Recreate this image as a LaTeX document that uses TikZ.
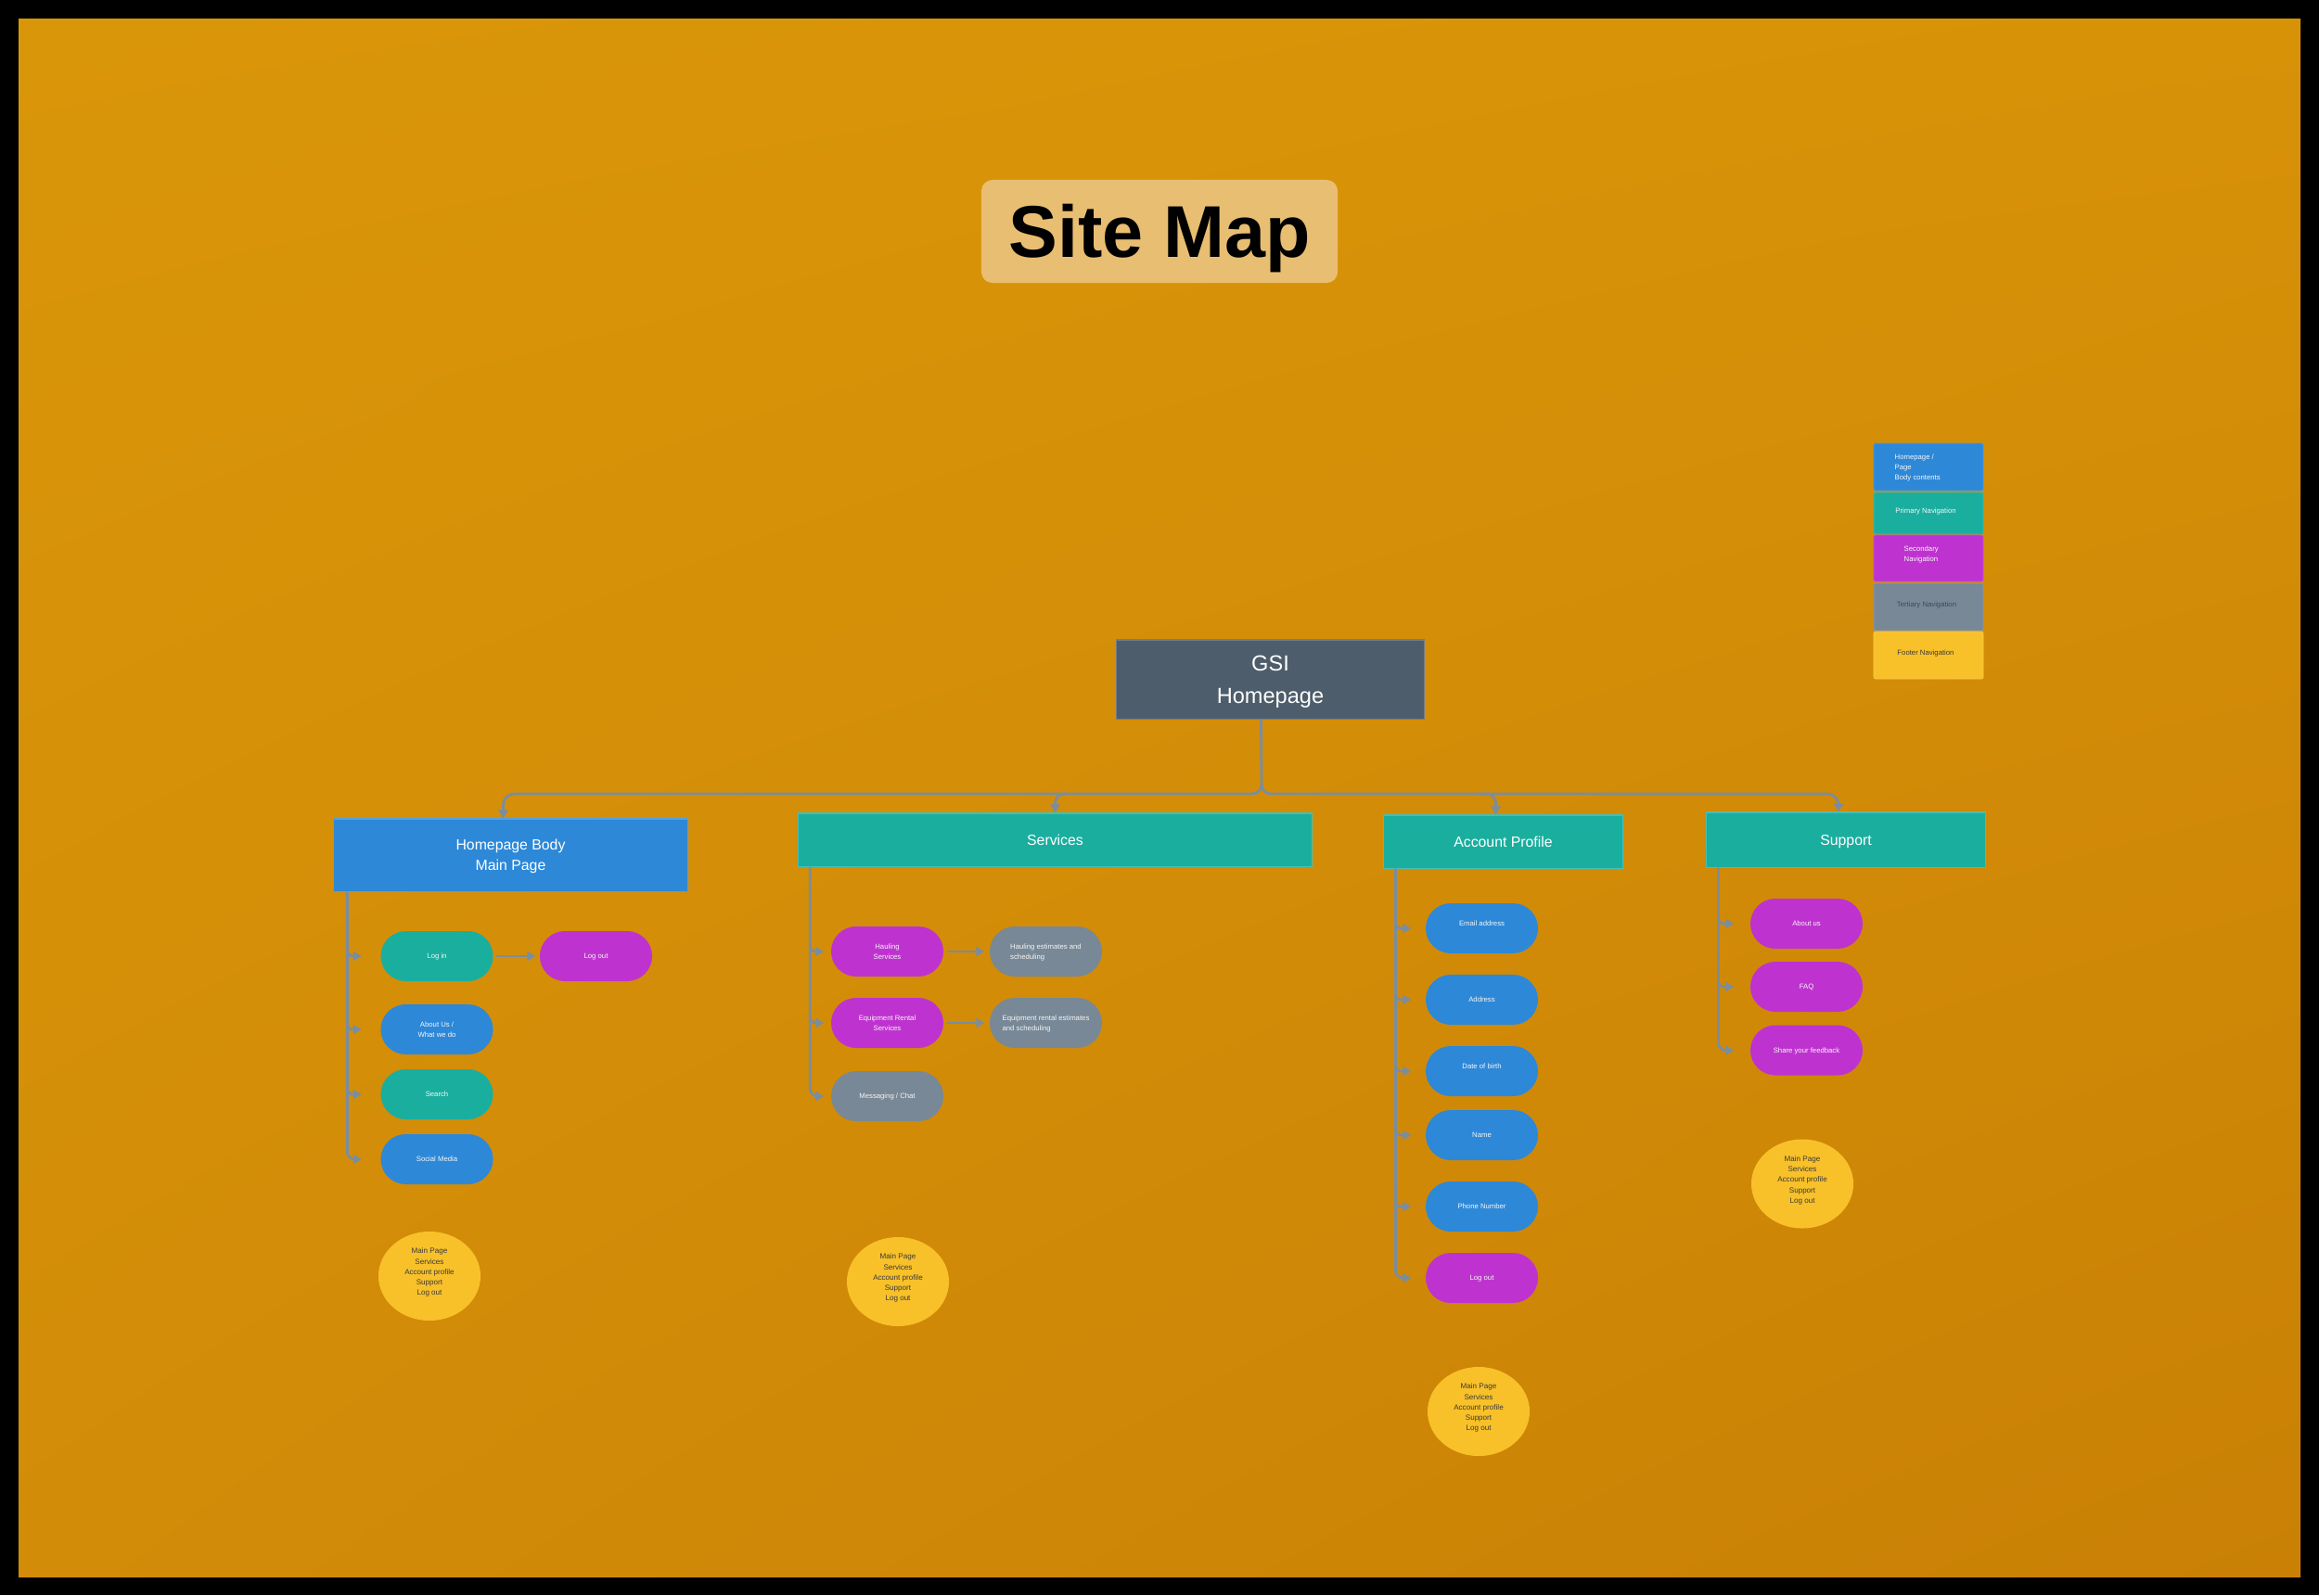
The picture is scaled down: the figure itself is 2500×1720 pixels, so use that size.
\documentclass[tikz,border=0pt]{standalone}
\usepackage{fontspec}
\setmainfont{Liberation Sans}
\usetikzlibrary{arrows.meta,shapes.geometric,calc,shadings}
\definecolor{bgA}{HTML}{DA9609}
\definecolor{bgB}{HTML}{D89208}
\definecolor{bgC}{HTML}{D28C08}
\definecolor{bgD}{HTML}{C98005}
\definecolor{blueC}{HTML}{2D88D8}
\definecolor{tealC}{HTML}{1AAE9F}
\definecolor{magC}{HTML}{BE33CF}
\definecolor{greyC}{HTML}{788896}
\definecolor{yelC}{HTML}{F8C12A}
\definecolor{slateC}{HTML}{4E5D6B}
\definecolor{titleC}{HTML}{E8BE72}
\definecolor{lineC}{HTML}{7A8DA0}
\definecolor{darkT}{HTML}{3A3A3A}
\definecolor{tertT}{HTML}{3E4A57}
\definecolor{txtW}{HTML}{F7F7F7}
\begin{document}
\begin{tikzpicture}[x=0.01cm,y=-0.01cm,
  hdr/.style={rectangle, inner sep=0pt, text=white, align=center, text depth=0pt,
    font=\fontsize{4.5}{6.3}\selectfont, fill=#1, draw=#1!80!white, line width=0.3pt},
  pill/.style={rectangle, rounded corners=0.27cm, minimum width=1.21cm,
    minimum height=0.54cm, inner sep=0pt, fill=#1, text=txtW, align=center, text depth=0pt,
    font=\fontsize{2.2}{3.2}\selectfont},
  foot/.style={ellipse, fill=yelC, inner sep=0pt, text=darkT, align=center, text depth=2.6pt,
    font=\fontsize{2.3}{3.2}\selectfont, minimum width=1.10cm, minimum height=0.96cm},
  legbox/.style={rectangle, rounded corners=0.02cm, inner sep=0pt, fill=#1,
    minimum width=1.18cm, draw=#1!85!white, line width=0.2pt},
  legtxt/.style={inner sep=0pt, align=left, text depth=0pt, font=\fontsize{2.2}{3.1}\selectfont},
  conn/.style={draw=lineC, line width=0.8pt},
  arr/.style={conn, -{Triangle[length=0.09cm, width=0.1cm]}}
]
\useasboundingbox (0,0) rectangle (2500,1720);
\fill[black] (0,0) rectangle (2500,1720);
\shade[upper left=bgA, upper right=bgB, lower left=bgC, lower right=bgD] (20,20) rectangle (2480,1700);

% title
\node[rectangle, rounded corners=0.12cm, fill=titleC, minimum width=3.84cm, minimum height=1.11cm,
  inner sep=0pt, text height=16.1pt, text depth=0pt,
  font=\fontsize{22.5}{26}\selectfont\bfseries] (title) at (1250,249.5) {Site Map};

% legend
\node[legbox=blueC, minimum height=0.51cm] (lg1) at (2079,503.5) {};
\node[legbox=tealC, minimum height=0.45cm] (lg2) at (2079,553.5) {};
\node[legbox=magC, minimum height=0.50cm] (lg3) at (2079,602) {};
\node[legbox=greyC, minimum height=0.51cm] (lg4) at (2079,654.5) {};
\node[legbox=yelC, minimum height=0.51cm] (lg5) at (2079,706.5) {};
\node[legtxt, text=txtW, anchor=west] (lt1) at (2042,504) {Homepage /\\Page\\Body contents};
\node[legtxt, text=txtW] (lt2) at (2076,551) {Primary Navigation};
\node[legtxt, text=txtW, anchor=west] (lt3) at (2052,597.5) {Secondary\\Navigation};
\node[legtxt, text=tertT] (lt4) at (2077,652) {Tertiary Navigation};
\node[legtxt, text=darkT] (lt5) at (2076,704) {Footer Navigation};

% root
\node[rectangle, fill=slateC, draw=slateC!80!white, line width=0.3pt, inner sep=0pt,
  minimum width=3.31cm, minimum height=0.85cm, text=white, align=center, text depth=0pt,
  font=\fontsize{6.7}{10}\selectfont] (gsi) at (1369.5,732.5) {GSI\\Homepage};

% primary boxes
\node[hdr=blueC, minimum width=3.81cm, minimum height=0.78cm] (hb) at (550.5,922) {Homepage Body\\Main Page};
\node[hdr=tealC, minimum width=5.53cm, minimum height=0.57cm] (srv) at (1137.5,905.5) {Services};
\node[hdr=tealC, minimum width=2.57cm, minimum height=0.57cm] (acc) at (1620.5,907.5) {Account Profile};
\node[hdr=tealC, minimum width=3.00cm, minimum height=0.59cm] (sup) at (1990,905.5) {Support};

% bus
\draw[conn] ($(gsi.south)+(-10,0)$) -- (1360,846) to[out=-90,in=0] (1350,856);
\draw[conn] (1360,846) to[out=-90,in=180] (1370,856);
\draw[arr, rounded corners=0.12cm] (1350,856) -| ($(hb.north)+(-8,0)$);
\draw[arr, rounded corners=0.12cm] (1370,856) -| ($(sup.north)+(-8,0)$);
\draw[arr, rounded corners=0.1cm] (1150,856) -| (srv.north);
\draw[arr, rounded corners=0.1cm] (1595,856) -| ($(acc.north)+(-8,0)$);

% homepage column
\node[pill=tealC] (login) at (471,1031) {Log in};
\node[pill=magC] (logout) at (642.5,1031) {Log out};
\node[pill=blueC] (about) at (471,1110) {About Us /\\What we do};
\node[pill=tealC] (search) at (471,1180) {Search};
\node[pill=blueC] (social) at (471,1250) {Social Media};
\node[foot] (f1) at (463,1376) {Main Page\\Services\\Account profile\\Support\\Log out};
\coordinate (t1) at ($(hb.south west)+(15,0)$);
\draw[arr, rounded corners=0.08cm, shorten >=0.2cm] (t1) |- (social.west);
\foreach \n in {login,about,search}
  \draw[arr, rounded corners=0.06cm, shorten >=0.2cm] ($(t1 |- \n.west)+(0,-10)$) |- (\n.west);
\draw[arr, shorten <=0.03cm, shorten >=0.04cm] (login.east) -- (logout.west);

% services column
\node[pill=magC] (haul) at (956.5,1026) {Hauling\\Services};
\node[pill=greyC, align=left] (hest) at (1127.5,1026) {Hauling estimates and\\scheduling};
\node[pill=magC] (equip) at (956.5,1103) {Equipment Rental\\Services};
\node[pill=greyC, align=left] (eest) at (1127.5,1103) {Equipment rental estimates\\and scheduling};
\node[pill=greyC] (msg) at (956.5,1182) {Messaging / Chat};
\node[foot] (f2) at (968,1382) {Main Page\\Services\\Account profile\\Support\\Log out};
\coordinate (t2) at ($(srv.south west)+(13,0)$);
\draw[arr, rounded corners=0.08cm, shorten >=0.07cm] (t2) |- (msg.west);
\foreach \n in {haul,equip}
  \draw[arr, rounded corners=0.06cm, shorten >=0.07cm] ($(t2 |- \n.west)+(0,-10)$) |- (\n.west);
\draw[arr, shorten <=0.03cm, shorten >=0.05cm] (haul.east) -- (hest.west);
\draw[arr, shorten <=0.03cm, shorten >=0.05cm] (equip.east) -- (eest.west);

% account column
\node[pill=blueC] (email) at (1597.5,1001) {\raisebox{0.6pt}[0pt][0pt]{Email address}};
\node[pill=blueC] (addr) at (1597.5,1078) {Address};
\node[pill=blueC] (dob) at (1597.5,1155) {\raisebox{0.6pt}[0pt][0pt]{Date of birth}};
\node[pill=blueC] (name) at (1597.5,1224) {Name};
\node[pill=blueC] (phone) at (1597.5,1301) {Phone Number};
\node[pill=magC] (logout2) at (1597.5,1378) {Log out};
\node[foot] (f3) at (1594,1522) {Main Page\\Services\\Account profile\\Support\\Log out};
\coordinate (t3) at ($(acc.south west)+(13,0)$);
\draw[arr, rounded corners=0.08cm, shorten >=0.15cm] (t3) |- (logout2.west);
\foreach \n in {email,addr,dob,name,phone}
  \draw[arr, rounded corners=0.06cm, shorten >=0.15cm] ($(t3 |- \n.west)+(0,-10)$) |- (\n.west);

% support column
\node[pill=magC] (aboutus) at (1947.5,996) {About us};
\node[pill=magC] (faq) at (1947.5,1064) {FAQ};
\node[pill=magC] (share) at (1947.5,1132.5) {Share your feedback};
\node[foot] (f4) at (1943,1276.5) {Main Page\\Services\\Account profile\\Support\\Log out};
\coordinate (t4) at ($(sup.south west)+(13,0)$);
\draw[arr, rounded corners=0.08cm, shorten >=0.17cm] (t4) |- (share.west);
\foreach \n in {aboutus,faq}
  \draw[arr, rounded corners=0.06cm, shorten >=0.17cm] ($(t4 |- \n.west)+(0,-10)$) |- (\n.west);
\end{tikzpicture}
\end{document}
